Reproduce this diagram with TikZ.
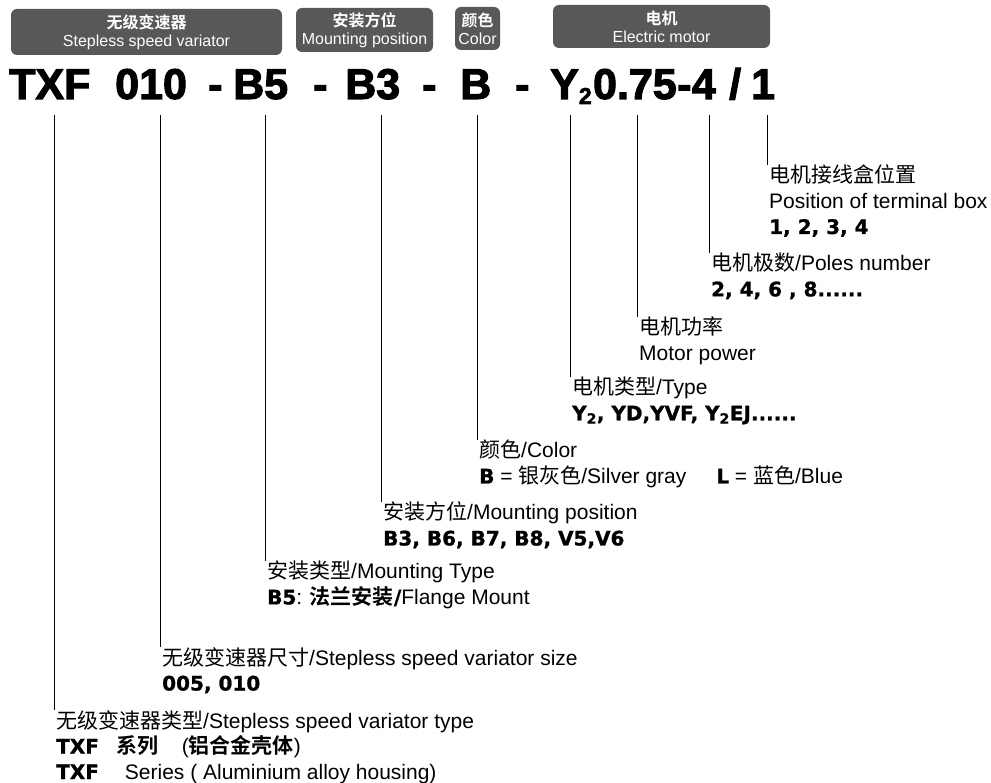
\documentclass[tikz,border=0pt]{standalone}
\usepackage{fontspec}
\setmainfont{Liberation Sans}
\newfontfamily\cjkfont{Noto Sans CJK SC}
\newfontfamily\cjkbold{Noto Sans CJK SC Bold}
\newfontfamily\heavyfont[FakeBold=1]{DejaVu Sans Bold}
\newfontfamily\codefont[FakeBold=2.5]{Liberation Sans Bold}
\newcommand\zh[1]{{\cjkfont #1}}
\newcommand\zhb[1]{{\cjkbold #1}}
\newcommand\hv[1]{{\heavyfont\fontsize{20}{25.5}\selectfont #1}}
\definecolor{hdrgray}{RGB}{88,88,88}
\tikzset{
  hdr/.style={fill=hdrgray, rounded corners=6pt, text=white, align=center, inner sep=0pt, font=\fontsize{16}{18}\selectfont},
  code/.style={anchor=base west, inner sep=0pt, text height=31pt, text depth=16pt, font=\codefont\fontsize{43}{43}\selectfont},
  lbl/.style={anchor=north west, inner sep=0pt, align=left, font=\fontsize{21}{25.5}\selectfont},
  lead/.style={line width=0.8pt}
}

\begin{document}
\begin{tikzpicture}[x=1pt, y=-1pt]
\useasboundingbox (0,0) rectangle (991,783);
\node[hdr, minimum width=271pt, minimum height=46pt] (hVar) at (146.5,32) {\zhb{无级变速器}\\Stepless speed variator};
\node[hdr, minimum width=137pt, minimum height=44pt] (hPos) at (364.5,30) {\zhb{安装方位}\\Mounting position};
\node[hdr, minimum width=45pt, minimum height=43pt] (hCol) at (477.5,28.5) {\zhb{颜色}\\Color};
\node[hdr, minimum width=217pt, minimum height=43pt] (hMot) at (661.5,26.5) {\zhb{电机}\\Electric motor};

\node[code] (tTXF) at (9,99) {TXF};
\node[code] (t010) at (115,99) {010};
\node[code] (d1) at (208,99) {-};
\node[code] (tB5) at (233,99) {B5};
\node[code] (d2) at (313,99) {-};
\node[code] (tB3) at (345,99) {B3};
\node[code] (d3) at (422,99) {-};
\node[code] (tB) at (460,99) {B};
\node[code] (d4) at (515,99) {-};
\node[code] (tY) at (550,99) {Y\raisebox{-5pt}{\fontsize{23}{23}\selectfont 2}};
\node[code] (tPow) at ([xshift=1pt]tY.base east) {0.75};
\node[code] (d5) at (tPow.base east) {-};
\node[code] (tPol) at (d5.base east) {4};
\node[code] (sl) at (729,99) {/};
\node[code] (tOne) at (751,99) {1};

\node[lbl] (lBox) at (769,165) {\zh{电机接线盒位置}\\Position of terminal box\\\hv{1, 2, 3, 4}};
\node[lbl] (lPole) at (711,253) {\zh{电机极数}/Poles number\\\hv{2, 4, 6 , 8......}};
\node[lbl] (lPow) at (639,317) {\zh{电机功率}\\Motor power};
\node[lbl] (lMot) at (572,377) {\zh{电机类型}/Type\\\hv{Y\textsubscript{2}, YD,YVF, Y\textsubscript{2}EJ......}};
\node[lbl] (lCol) at (479,440) {\zh{颜色}/Color\\\hv{B} = \zh{银灰色}/Silver gray\hspace{30pt}\hv{L} = \zh{蓝色}/Blue};
\node[lbl] (lPos) at (383,502) {\zh{安装方位}/Mounting position\\\hv{B3, B6, B7, B8, V5,V6}};
\node[lbl] (lMnt) at (267,561) {\zh{安装类型}/Mounting Type\\\hv{B5}: \zhb{法兰安装}\hv{/}Flange Mount};
\node[lbl] (lSize) at (162,647) {\zh{无级变速器尺寸}/Stepless speed variator size\\\hv{005, 010}};
\node[lbl] (lType) at (56,710) {\zh{无级变速器类型}/Stepless speed variator type\\\hv{TXF}\hspace{18pt}\zhb{系列}\hspace{23pt}(\zhb{铝合金壳体})\\\hv{TXF}\hspace{26pt}Series ( Aluminium alloy housing)};

\foreach \l/\t in {lBox/tOne, lPole/tPol, lPow/tPow, lMot/tY, lCol/tB, lPos/tB3, lMnt/tB5, lSize/t010, lType/tTXF}
  \draw[lead] ([xshift=-2pt]\l.north west) -- ([xshift=-2pt]\l.north west |- \t.south);
\end{tikzpicture}
\end{document}
